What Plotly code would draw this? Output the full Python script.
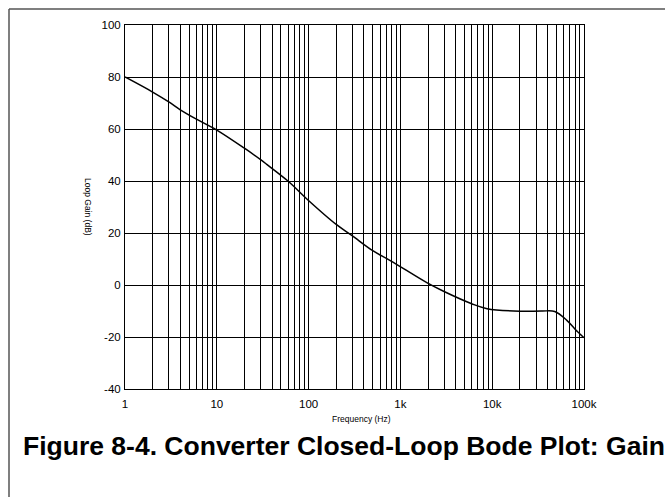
import plotly.graph_objects as go

# Closed-loop gain of the converter versus frequency
freq_hz = [1, 2, 3, 4, 6, 10, 20, 30, 35, 60, 95, 200, 295, 505, 776,
           1960, 2950, 5980, 8800, 20000, 35000, 48000, 65000, 80000, 100000]
gain_db = [80, 74.2, 70.4, 67.4, 63.8, 59.6, 52.6, 48.2, 46.4, 39.9, 33.2, 23.3, 19.1, 13.1, 9.4,
           0.8, -2.4, -7.2, -9.1, -10.1, -10.0, -10.2, -13.6, -17.0, -20.3]

x_tick_vals = [1, 10, 100, 1000, 10000, 100000]
x_tick_text = ["1", "10", "100", "1k", "10k", "100k"]
y_tick_vals = [-40, -20, 0, 20, 40, 60, 80, 100]
y_tick_text = ["-40", "-20", "0", "20", "40", "60", "80", "100"]

caption = "Figure 8-4. Converter Closed-Loop Bode Plot: Gain"
x_title = "Frequency (Hz)"
y_title = "Loop Gain (dB)"

W, H = 665, 497
L, R, T, B = 125, 81, 25, 108
PW, PH = W - L - R, H - T - B


def px(x):
    return (x - L) / PW


def py(y):
    return (H - B - y) / PH


FONT = "Liberation Sans, Arial, Helvetica, sans-serif"

fig = go.Figure()
fig.add_trace(go.Scatter(
    x=freq_hz, y=gain_db, mode="lines",
    line=dict(color="black", width=1.5, shape="spline", smoothing=1.0),
    hoverinfo="skip", showlegend=False,
))

grid = dict(showgrid=True, gridcolor="black", gridwidth=1)

fig.update_layout(
    width=W, height=H,
    margin=dict(l=L, r=R, t=T, b=B),
    paper_bgcolor="white", plot_bgcolor="white",
    font=dict(family=FONT, size=11.5, color="black"),
    xaxis=dict(
        type="log", range=[0, 5],
        tickvals=x_tick_vals, ticktext=x_tick_text,
        ticks="", ticklabelstandoff=4,
        showline=True, linecolor="black", linewidth=1, mirror=True,
        zeroline=False,
        minor=dict(dtick="D1", showgrid=True, gridcolor="black", gridwidth=1, ticks=""),
        **grid,
    ),
    yaxis=dict(
        range=[-40, 100], tickvals=y_tick_vals, ticktext=y_tick_text,
        ticks="", ticklabelstandoff=1,
        showline=True, linecolor="black", linewidth=1, mirror=True,
        zeroline=False,
        **grid,
    ),
    annotations=[
        dict(text=x_title, xref="paper", yref="paper", x=px(361), y=py(419),
             xanchor="center", yanchor="middle", showarrow=False,
             font=dict(family=FONT, size=8.5, color="black")),
        dict(text=y_title, xref="paper", yref="paper", x=px(88), y=py(207),
             xanchor="center", yanchor="middle", showarrow=False, textangle=90,
             font=dict(family=FONT, size=8.5, color="black")),
        dict(text="<b>" + caption + "</b>", xref="paper", yref="paper",
             x=px(20.5), y=py(446), xanchor="left", yanchor="middle", showarrow=False,
             font=dict(family=FONT, size=26.5, color="black")),
    ],
    shapes=[
        # outer frame: top and left edges
        dict(type="line", xref="paper", yref="paper",
             x0=px(9), y0=py(9), x1=px(700), y1=py(9),
             line=dict(color="#555555", width=1.5)),
        dict(type="line", xref="paper", yref="paper",
             x0=px(9), y0=py(9), x1=px(9), y1=py(520),
             line=dict(color="#555555", width=1.5)),
    ],
)

fig.write_html("out.html")
